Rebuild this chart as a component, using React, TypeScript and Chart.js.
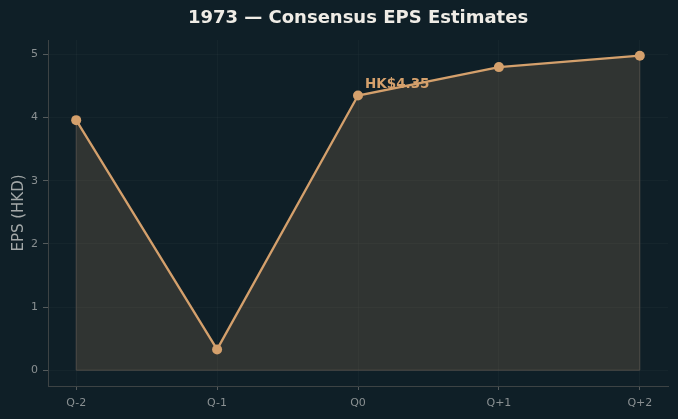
import React, { useEffect, useRef } from "react";
import { Chart, registerables } from "chart.js";

Chart.register(...registerables);

const quarters = ["Q-2", "Q-1", "Q0", "Q+1", "Q+2"];
const epsValues = [3.96, 0.33, 4.35, 4.8, 4.98];
const yTicks = [0, 1, 2, 3, 4, 5];
const annotationIndex = 2;
const annotationText = "HK$4.35";

const BG = "#0f1f27";
const LINE = "#d4a06c";

const edgePlugin = {
  id: "edgeAndLabel",
  beforeDatasetsDraw(chart: any) {
    const { ctx, scales } = chart;
    const x = scales.x;
    const y = scales.y;
    const n = epsValues.length;
    ctx.save();
    ctx.strokeStyle = "#424545";
    ctx.lineWidth = 1;
    ctx.beginPath();
    ctx.moveTo(x.getPixelForValue(0), y.getPixelForValue(epsValues[0]));
    ctx.lineTo(x.getPixelForValue(0), y.getPixelForValue(0));
    ctx.lineTo(x.getPixelForValue(n - 1), y.getPixelForValue(0));
    ctx.lineTo(x.getPixelForValue(n - 1), y.getPixelForValue(epsValues[n - 1]));
    ctx.stroke();
    ctx.restore();
  },
  afterDatasetsDraw(chart: any) {
    const { ctx, scales } = chart;
    const px = scales.x.getPixelForValue(annotationIndex);
    const py = scales.y.getPixelForValue(epsValues[annotationIndex]);
    ctx.save();
    ctx.font = "bold 13.5px 'DejaVu Sans'";
    ctx.fillStyle = LINE;
    ctx.textAlign = "left";
    ctx.textBaseline = "middle";
    ctx.fillText(annotationText, px + 7, py - 11);
    ctx.restore();
  },
};

export default function App() {
  const ref = useRef<HTMLCanvasElement>(null);
  useEffect(() => {
    document.body.style.margin = "0";
    document.body.style.background = BG;
    const maxV = Math.max(...epsValues);
    const chart = new Chart(ref.current!, {
      type: "line",
      data: {
        datasets: [
          {
            data: epsValues.map((v, i) => ({ x: i, y: v })),
            borderColor: LINE,
            backgroundColor: "rgba(212, 160, 108, 0.17)",
            fill: "origin",
            borderWidth: 2.3,
            pointRadius: 5,
            pointBorderWidth: 0,
            pointBackgroundColor: LINE,
            pointBorderColor: LINE,
            tension: 0,
          },
        ],
      },
      options: {
        animation: false,
        responsive: false,
        maintainAspectRatio: false,
        layout: { padding: { left: 0, right: 10, top: 0, bottom: 0 } },
        plugins: {
          legend: { display: false },
          tooltip: { enabled: false },
          title: {
            display: true,
            fullSize: false,
            text: "1973 — Consensus EPS Estimates",
            color: "#efece6",
            font: { family: "'DejaVu Sans'", size: 18, weight: "bold" },
            padding: { top: 8, bottom: 10.4 },
          },
        },
        scales: {
          x: {
            type: "linear",
            min: -0.2,
            max: quarters.length - 1 + 0.2,
            afterBuildTicks: (s: any) => {
              s.ticks = quarters.map((_, i) => ({ value: i }));
            },
            afterFit: (s: any) => {
              s.height = 33;
            },
            ticks: {
              color: "#8a9092",
              font: { family: "'DejaVu Sans'", size: 11 },
              padding: 7,
              maxRotation: 0,
              autoSkip: false,
              callback: (v: any) => quarters[v] ?? "",
            },
            grid: {
              color: "rgba(255,255,255,0.028)",
              tickColor: "#555b5c",
              tickLength: 4,
            },
            border: { color: "#3d4344", width: 1 },
          },
          y: {
            type: "linear",
            min: -0.05 * maxV,
            max: maxV * 1.05,
            afterBuildTicks: (s: any) => {
              s.ticks = yTicks.map((v) => ({ value: v }));
            },
            afterFit: (s: any) => {
              s.width = 48;
            },
            ticks: {
              color: "#8a9092",
              font: { family: "'DejaVu Sans'", size: 11 },
              padding: 5,
              callback: (v: any) => String(v),
            },
            title: {
              display: true,
              text: "EPS (HKD)",
              color: "#a3a8a8",
              font: { family: "'DejaVu Sans'", size: 15 },
              padding: { top: 10, bottom: 0 },
            },
            grid: {
              color: "rgba(255,255,255,0.028)",
              tickColor: "#555b5c",
              tickLength: 5,
            },
            border: { color: "#3d4344", width: 1 },
          },
        },
      },
      plugins: [edgePlugin],
    } as any);
    return () => chart.destroy();
  }, []);
  return (
    <div style={{ position: "fixed", left: 0, top: 0, width: 678, height: 419, background: BG }}>
      <canvas ref={ref} width={678} height={419} style={{ width: 678, height: 419, display: "block" }} />
    </div>
  );
}
